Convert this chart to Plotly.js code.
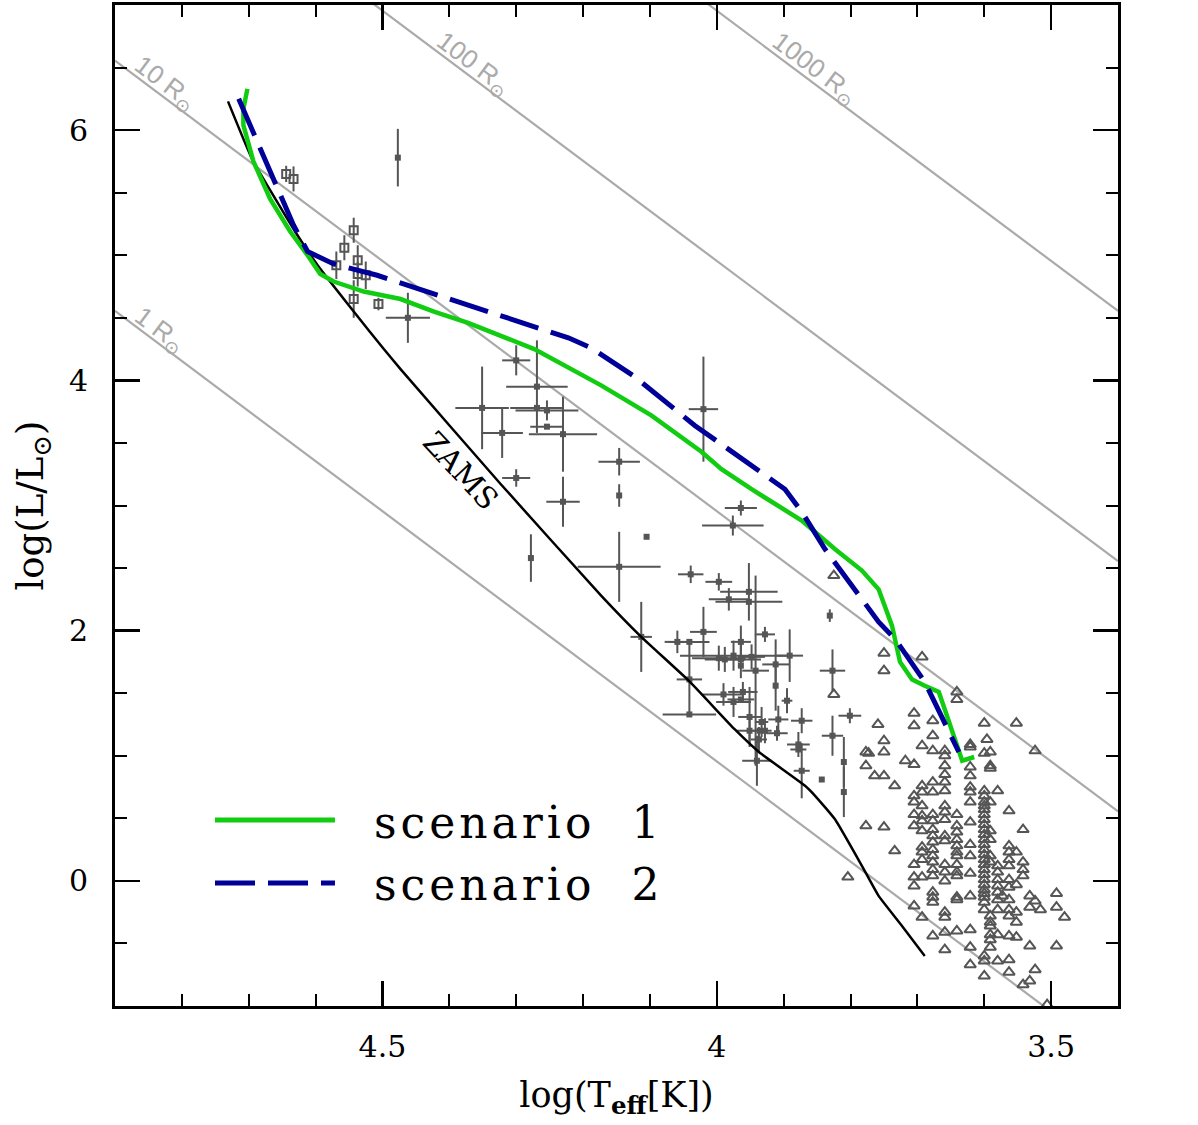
<!DOCTYPE html>
<html>
<head>
<meta charset="utf-8">
<script src="https://cdn.plot.ly/plotly-3.0.1.min.js"></script>
<style>html,body{margin:0;padding:0;background:#fff;}</style>
</head>
<body>
<div id="chart" style="width:1198px;height:1125px;"></div>
<script>
// ---------------- DATA ----------------
// Iso-radius lines (solar radii), drawn with L = 4 pi R^2 sigma T^4
const radii = [1, 10, 100, 1000];
const radiusLabels = ['1 R<sub>⊙</sub>', '10 R<sub>⊙</sub>', '100 R<sub>⊙</sub>', '1000 R<sub>⊙</sub>'];
const radiusLabelLogT = [4.833, 4.825, 4.365, 3.854];
const radiusLabelLogL = [4.40, 6.37, 6.53, 6.49];
const logTsun = Math.log10(5772);

// Zero-age main sequence
const zamsLogT = [4.731, 4.695, 4.633, 4.597, 4.543, 4.498, 4.473, 4.323, 4.173, 4.113, 4.042, 3.973, 3.937, 3.868, 3.853, 3.823, 3.783, 3.758, 3.723, 3.689];
const zamsLogL = [6.23, 5.77, 5.21, 4.92, 4.55, 4.25, 4.09, 3.17, 2.28, 1.95, 1.60, 1.21, 1.03, 0.76, 0.68, 0.49, 0.12, -0.12, -0.36, -0.60];

// Scenario 1 (green)
const scen1LogT = [4.702, 4.708, 4.708, 4.693, 4.668, 4.638, 4.612, 4.593, 4.573, 4.528, 4.473, 4.423, 4.372, 4.323, 4.273, 4.173, 4.098, 4.023, 3.993, 3.948, 3.873, 3.823, 3.783, 3.758, 3.738, 3.726, 3.708, 3.689, 3.668, 3.659, 3.633, 3.615];
const scen1LogL = [6.33, 6.17, 6.04, 5.75, 5.45, 5.19, 5.00, 4.85, 4.79, 4.71, 4.65, 4.55, 4.46, 4.36, 4.25, 3.96, 3.72, 3.43, 3.29, 3.13, 2.88, 2.65, 2.48, 2.33, 2.04, 1.75, 1.61, 1.56, 1.51, 1.37, 0.96, 0.99];

// Scenario 2 (blue dashed)
const scen2LogT = [4.715, 4.698, 4.663, 4.633, 4.612, 4.573, 4.508, 4.423, 4.323, 4.222, 4.188, 4.123, 4.033, 3.948, 3.898, 3.873, 3.838, 3.758, 3.733, 3.689, 3.638];
const scen2LogL = [6.25, 6.04, 5.59, 5.24, 5.03, 4.93, 4.84, 4.69, 4.51, 4.34, 4.26, 4.03, 3.64, 3.32, 3.13, 2.95, 2.65, 2.07, 1.93, 1.59, 1.03];

// Observed stars with error bars (filled markers)
const obsLogT = [4.477, 4.462, 4.300, 4.269, 4.351, 4.269, 4.254, 4.254, 4.230, 4.321, 4.300, 4.230, 4.146, 4.146, 4.105, 4.278, 4.146, 4.020, 3.964, 3.976, 4.039, 4.113, 3.997, 3.982, 3.952, 3.952, 4.020, 4.059, 4.041, 3.964, 3.928, 3.997, 3.988, 3.975, 3.964, 3.948, 3.942, 3.891, 3.964, 3.912, 3.912, 3.895, 3.990, 3.961, 3.975, 3.964, 4.041, 4.041, 3.951, 3.933, 3.908, 3.873, 3.951, 3.936, 3.928, 3.910, 3.937, 3.878, 3.878, 3.940, 3.873, 3.831, 3.827, 3.801, 3.827, 3.810, 3.810, 3.843];
const obsLogL = [5.78, 4.50, 4.16, 3.95, 3.78, 3.78, 3.76, 3.63, 3.57, 3.58, 3.22, 3.03, 3.35, 3.08, 2.75, 2.58, 2.51, 3.77, 2.98, 2.84, 2.45, 1.95, 2.39, 2.25, 2.31, 2.23, 1.99, 1.91, 1.91, 1.91, 1.97, 1.78, 1.77, 1.80, 1.77, 1.79, 1.68, 1.80, 1.72, 1.73, 1.56, 1.44, 1.49, 1.51, 1.43, 1.45, 1.61, 1.33, 1.31, 1.27, 1.29, 1.28, 1.20, 1.20, 1.20, 1.18, 1.13, 1.09, 1.05, 0.96, 0.88, 2.12, 1.68, 1.32, 1.16, 0.95, 0.71, 0.81];
const obsErrT = [0, 0.033, 0.021, 0.046, 0.040, 0.040, 0.047, 0.025, 0.051, 0.031, 0.021, 0.025, 0.031, 0, 0, 0, 0.062, 0.022, 0.024, 0.046, 0.019, 0.016, 0.020, 0.030, 0.043, 0.050, 0.020, 0.019, 0.030, 0.015, 0.015, 0.040, 0.030, 0.080, 0.030, 0.020, 0.020, 0.020, 0, 0.020, 0, 0.008, 0.031, 0.022, 0.026, 0.020, 0.019, 0.040, 0.017, 0.010, 0.015, 0.016, 0.020, 0.010, 0.010, 0.016, 0.012, 0.017, 0.012, 0.022, 0.012, 0, 0.019, 0.017, 0.016, 0, 0, 0];
const obsErrL = [0.23, 0.20, 0.12, 0.37, 0.33, 0, 0.08, 0, 0.30, 0.20, 0.07, 0.20, 0.11, 0.09, 0, 0.19, 0.28, 0.42, 0.06, 0.08, 0.07, 0.28, 0.07, 0.09, 0.23, 0, 0.20, 0.09, 0, 0.13, 0.06, 0.10, 0.10, 0.12, 0.15, 0.10, 0.76, 0.21, 0, 0.20, 0.20, 0.10, 0.09, 0.08, 0.12, 0, 0.30, 0, 0.24, 0.12, 0.11, 0.10, 0.10, 0, 0.10, 0.06, 0.10, 0.10, 0, 0.20, 0.22, 0.05, 0.17, 0.06, 0.16, 0.20, 0.20, 0];

// Observed stars with open squares
const openLogT = [4.644, 4.633, 4.543, 4.557, 4.537, 4.569, 4.537, 4.525, 4.543, 4.506];
const openLogL = [5.65, 5.61, 5.20, 5.06, 4.96, 4.92, 4.85, 4.84, 4.65, 4.61];
const openErrL = [0.065, 0.10, 0.10, 0.10, 0.12, 0.11, 0.10, 0.11, 0.15, 0.05];

// Low-mass stars (open triangles), grouped by temperature column
const triColLogT = [3.825, 3.804, 3.777, 3.773, 3.764, 3.759, 3.750, 3.734, 3.718, 3.705, 3.693, 3.677, 3.659, 3.641, 3.621, 3.600, 3.596, 3.591, 3.580, 3.573, 3.563, 3.552, 3.542, 3.532, 3.524, 3.516, 3.506, 3.492, 3.480];
const triColLogL = [
  [2.44, 1.49],
  [0.03],
  [1.03, 0.92, 0.44],
  [1.02],
  [0.84],
  [1.25],
  [1.82, 1.68, 1.12, 1.03, 0.84, 0.43],
  [0.76, 0.24],
  [0.96],
  [1.34, 1.24, 0.93, 0.68, 0.63, 0.53, 0.44, 0.13, 0.03, -0.04, -0.20],
  [1.79, 1.08, 0.76, 0.71, 0.60, 0.52, 0.48, 0.40, 0.27, 0.23, 0.17, 0.03, -0.29],
  [1.28, 1.16, 1.04, 0.79, 0.71, 0.53, 0.48, 0.41, 0.36, 0.31, 0.25, 0.20, 0.15, 0.09, 0.04, -0.09, -0.13, -0.17, -0.44],
  [1.04, 1.00, 0.92, 0.85, 0.79, 0.72, 0.60, 0.55, 0.49, 0.36, 0.32, 0.13, 0.07, 0.00, -0.25, -0.29, -0.41, -0.55],
  [1.51, 1.45, 0.53, 0.44, 0.39, 0.33, 0.28, 0.23, 0.20, 0.13, 0.07, 0.04, -0.13, -0.15, -0.40],
  [1.09, 1.07, 0.91, 0.84, 0.75, 0.71, 0.63, 0.47, 0.29, 0.20, 0.06, -0.12, -0.39, -0.53, -0.67],
  [1.26, 1.02, 0.72, 0.68, 0.63, 0.60, 0.57, 0.53, 0.49, 0.45, 0.41, 0.37, 0.33, 0.29, 0.25, 0.21, 0.17, 0.13, 0.09, 0.05, 0.01, -0.03, -0.07, -0.10, -0.13, -0.17, -0.23, -0.60, -0.64, -0.76],
  [1.13],
  [1.03, 0.92, 0.90, 0.63, 0.40, 0.33, 0.20, 0.15, -0.28, -0.33, -0.36, -0.43, -0.47, -0.53],
  [0.72, 0.12, 0.07, 0.01, -0.04, -0.09, -0.15, -0.23, -0.43, -0.64],
  [-0.12],
  [0.56, 0.28, 0.23, 0.17, 0.12, 0.01, -0.05, -0.15, -0.23, -0.28, -0.44, -0.63, -0.73],
  [1.26, 0.23, -0.03, -0.25, -0.33, -0.45],
  [0.41, 0.15, 0.09, 0.04, -0.83],
  [-0.12, -0.21, -0.52, -0.80],
  [1.04, -0.16, -0.71],
  [-0.23],
  [-0.99],
  [-0.10, -0.21, -0.52],
  [-0.29]
];

const xRange = [4.9, 3.4];
const yRange = [-1, 7];
const legendNames = ['scenario 1', 'scenario 2'];

// ---------------- BUILD ----------------
const GRAY = '#555555';
const RLINE = '#aaaaaa';
const GREEN = '#11cc11';
const NAVY = '#000099';
const SERIF = 'DejaVu Serif, Liberation Serif, serif';

const traces = [];

radii.forEach(R => {
  traces.push({
    x: xRange.slice(),
    y: xRange.map(t => 2 * Math.log10(R) + 4 * (t - logTsun)),
    mode: 'lines', line: {color: RLINE, width: 2.2}, hoverinfo: 'skip', showlegend: false
  });
});

const triX = [], triY = [];
triColLogT.forEach((t, i) => triColLogL[i].forEach(l => { triX.push(t); triY.push(l); }));
traces.push({
  x: triX, y: triY, mode: 'markers', showlegend: false,
  marker: {symbol: 'triangle-up-open', size: 10, color: GRAY, line: {width: 2, color: GRAY}}
});

traces.push({
  x: openLogT, y: openLogL, mode: 'markers', showlegend: false,
  error_y: {type: 'data', array: openErrL, width: 0, thickness: 2, color: GRAY},
  marker: {symbol: 'square-open', size: 8, color: GRAY, line: {width: 2, color: GRAY}}
});

traces.push({
  x: obsLogT, y: obsLogL, mode: 'markers', showlegend: false,
  error_x: {type: 'data', array: obsErrT, width: 0, thickness: 2, color: GRAY},
  error_y: {type: 'data', array: obsErrL, width: 0, thickness: 2, color: GRAY},
  marker: {symbol: 'square', size: 6, color: GRAY}
});

traces.push({
  x: zamsLogT, y: zamsLogL, mode: 'lines', name: 'ZAMS', showlegend: false,
  line: {color: '#000000', width: 2.5, shape: 'spline', smoothing: 0.4}
});

traces.push({
  x: scen1LogT, y: scen1LogL, mode: 'lines', name: legendNames[0], showlegend: false,
  line: {color: GREEN, width: 4.5}
});
traces.push({
  x: scen2LogT, y: scen2LogL, mode: 'lines', name: legendNames[1], showlegend: false,
  line: {color: NAVY, width: 5, dash: '40px,13px'}
});

const annotations = [];
radii.forEach((R, i) => {
  annotations.push({
    x: radiusLabelLogT[i], y: radiusLabelLogL[i], xref: 'x', yref: 'y',
    text: radiusLabels[i], showarrow: false, textangle: 36.87,
    font: {family: 'Liberation Sans, Arial, sans-serif', size: 26, color: RLINE}
  });
});
annotations.push({
  x: 4.383, y: 3.28, xref: 'x', yref: 'y', text: 'ZAMS', showarrow: false, textangle: 47,
  font: {family: SERIF, size: 30, color: '#000'}
});
// legend text
annotations.push({
  x: 0.2562, y: 0.1838, xref: 'paper', yref: 'paper', xanchor: 'left', yanchor: 'middle',
  text: legendNames[0].replace(' ', '&nbsp;&nbsp;'), showarrow: false, font: {family: SERIF, size: 44, color: '#000'}
});
annotations.push({
  x: 0.2562, y: 0.1209, xref: 'paper', yref: 'paper', xanchor: 'left', yanchor: 'middle',
  text: legendNames[1].replace(' ', '&nbsp;&nbsp;'), showarrow: false, font: {family: SERIF, size: 44, color: '#000'}
});

const shapes = [
  {type: 'line', xref: 'paper', yref: 'paper', x0: 0.0997, x1: 0.2193, y0: 0.1858, y1: 0.1858,
   line: {color: GREEN, width: 5}},
  {type: 'line', xref: 'paper', yref: 'paper', x0: 0.0997, x1: 0.2193, y0: 0.1229, y1: 0.1229,
   line: {color: NAVY, width: 5, dash: '40px,13px'}}
];

const axisCommon = {
  showgrid: false, zeroline: false, showline: true, linecolor: '#000', linewidth: 3,
  mirror: 'allticks', ticks: 'inside', ticklen: 25, tickwidth: 2.5, tickcolor: '#000',
  tickfont: {family: SERIF, size: 30, color: '#000'}
};

const layout = {
  width: 1198, height: 1125,
  margin: {l: 115, r: 80, t: 5, b: 119},
  paper_bgcolor: '#fff', plot_bgcolor: '#fff',
  showlegend: false,
  xaxis: Object.assign({}, axisCommon, {
    range: xRange, tick0: 0, dtick: 0.5, ticklabelstandoff: 12,
    minor: {ticks: 'inside', dtick: 0.1, ticklen: 12, tickwidth: 2, tickcolor: '#000'},
    title: {text: 'log(T<sub><b>eff</b></sub>[K])', font: {family: SERIF, size: 35, color: '#000'}, standoff: 20}
  }),
  yaxis: Object.assign({}, axisCommon, {
    range: yRange, tick0: 0, dtick: 2, ticklabelstandoff: 18,
    minor: {ticks: 'inside', dtick: 0.5, ticklen: 12, tickwidth: 2, tickcolor: '#000'},
    title: {text: 'log(L/L<sub>⊙</sub>)', font: {family: SERIF, size: 37, color: '#000'}, standoff: 14}
  }),
  annotations: annotations,
  shapes: shapes
};

Plotly.newPlot('chart', traces, layout, {staticPlot: true, displayModeBar: false}).then(gd => {
  // widen the legend lettering (reference uses a wide stroke font), keeping the left edge fixed
  const n = annotations.length;
  [n - 2, n - 1].forEach(idx => {
    const txt = gd.querySelector('.annotation[data-index="' + idx + '"] text.annotation-text');
    if (!txt) return;
    const before = txt.getBBox();
    txt.style.letterSpacing = '4px';
    const after = txt.getBBox();
    const dx = before.x - after.x;
    txt.setAttribute('transform', 'translate(' + dx + ',0)');
  });
});
</script>
</body>
</html>
